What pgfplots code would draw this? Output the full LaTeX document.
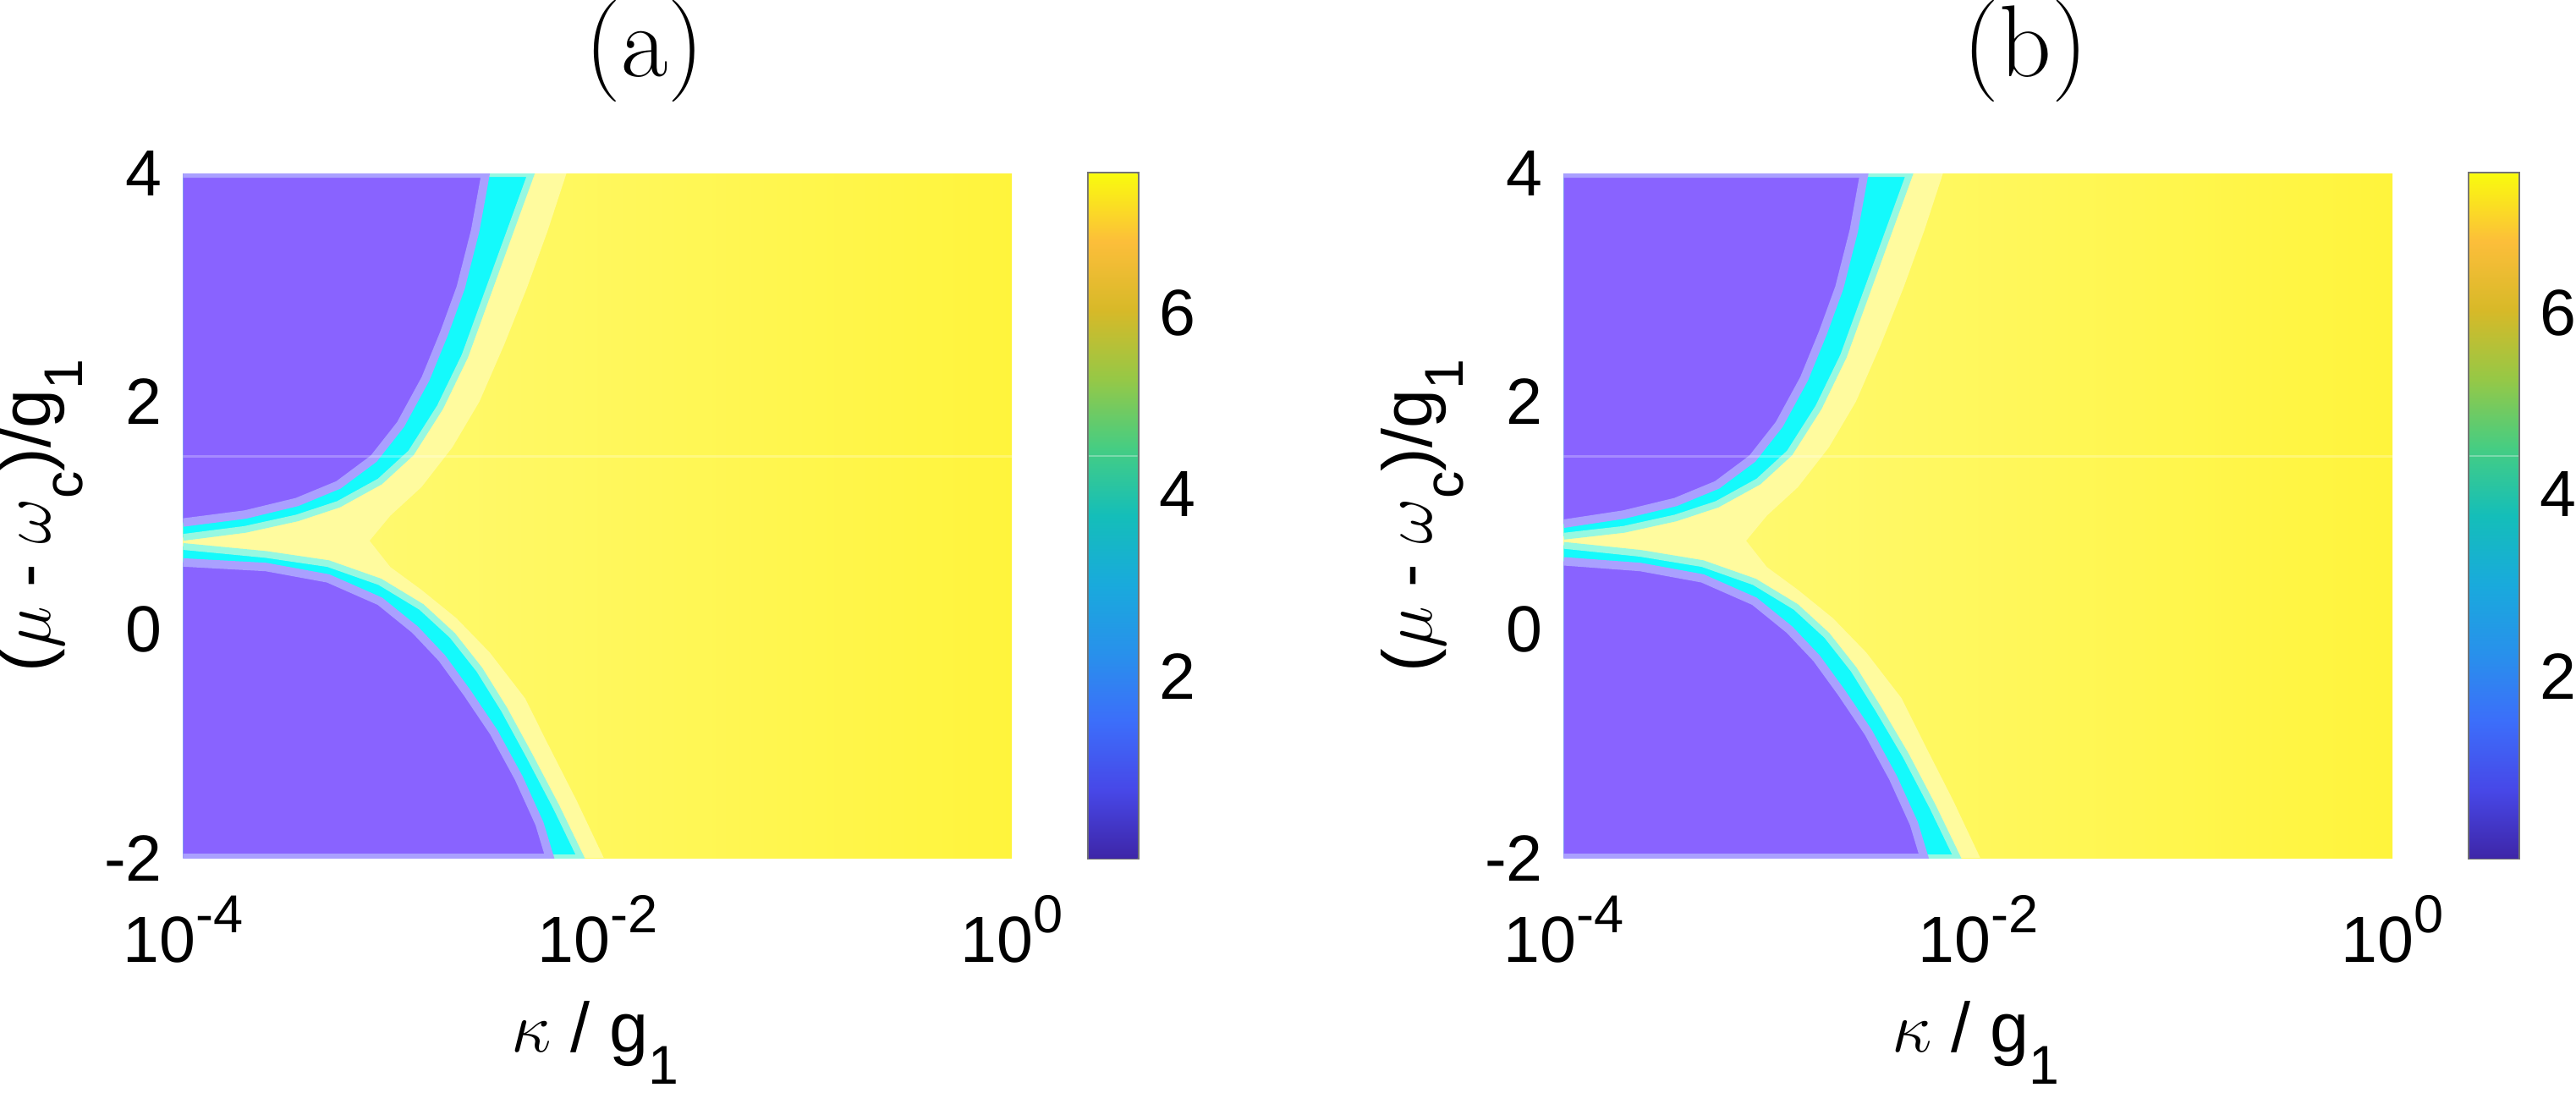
\documentclass[border=0pt]{standalone}
\usepackage{pgfplots}
\pgfplotsset{compat=1.18}
\usepackage{pgfplotstable}
\usepackage{fontspec}
\setsansfont{Liberation Sans}

\definecolor{mpurple}{RGB}{137,99,255}
\definecolor{mlav}{RGB}{170,160,255}
\definecolor{mcyan}{RGB}{20,250,252}
\definecolor{mcyanL}{RGB}{150,248,225}
\definecolor{mpale}{RGB}{255,251,158}
\definecolor{myelL}{RGB}{255,251,125}
\definecolor{myelR}{RGB}{255,244,60}
% parula-like colour scale
\definecolor{p0}{RGB}{62,38,168}
\definecolor{p1}{RGB}{71,72,232}
\definecolor{p2}{RGB}{60,110,250}
\definecolor{p3}{RGB}{40,145,235}
\definecolor{p4}{RGB}{25,170,220}
\definecolor{p5}{RGB}{20,190,185}
\definecolor{p6}{RGB}{70,205,130}
\definecolor{p7}{RGB}{150,200,70}
\definecolor{p8}{RGB}{215,185,40}
\definecolor{p9}{RGB}{252,190,58}
\definecolor{p10}{RGB}{249,251,14}
\pgfdeclareverticalshading{parula}{100bp}{color(0bp)=(p0); color(25bp)=(p0);
  color(30bp)=(p1); color(35bp)=(p2); color(40bp)=(p3); color(45bp)=(p4);
  color(50bp)=(p5); color(55bp)=(p6); color(60bp)=(p7); color(65bp)=(p8);
  color(70bp)=(p9); color(75bp)=(p10); color(100bp)=(p10)}
\pgfdeclarehorizontalshading{yelgrad}{100bp}{color(0bp)=(myelL); color(25bp)=(myelL);
  color(75bp)=(myelR); color(100bp)=(myelR)}

\newcommand{\tickfont}{\sffamily\fontsize{11}{13}\selectfont}
\newcommand{\labfont}{\sffamily\fontsize{11.8}{14}\selectfont}
\newcommand{\titfont}{\rmfamily\fontsize{17.2}{20}\selectfont}
\newcommand{\expo}[1]{\raisebox{5pt}{\fontsize{9}{9}\selectfont #1}}
\newcommand{\subs}[1]{\raisebox{-5.4pt}{\fontsize{9.2}{9.2}\selectfont #1}}

% panel (a): boundaries of the low (purple) regions and the cyan rims
\pgfplotstableread{
k y
1e-4 4
2.884e-3 4
2.570e-3 3.5
2.188e-3 3.0
1.820e-3 2.6
1.479e-3 2.2
1.122e-3 1.8
8.318e-4 1.5
5.623e-4 1.27
3.548e-4 1.12
1.995e-4 1.01
1e-4 0.94
}\purpUpA
\pgfplotstableread{
k y
1e-4 4
4.786e-3 4
3.981e-3 3.6
3.020e-3 3.0
2.291e-3 2.4
1.738e-3 1.95
1.259e-3 1.55
8.913e-4 1.30
5.623e-4 1.10
3.548e-4 0.98
1.995e-4 0.88
1e-4 0.81
}\cyanUpA
\pgfplotstableread{
k y
1e-4 -2
5.888e-3 -2
5.248e-3 -1.7
4.169e-3 -1.3
3.162e-3 -0.9
2.344e-3 -0.55
1.778e-3 -0.25
1.318e-3 0.0
8.913e-4 0.25
5.012e-4 0.45
2.512e-4 0.55
1e-4 0.59
}\purpLoA
\pgfplotstableread{
k y
1e-4 -2
8.318e-3 -2
6.310e-3 -1.55
4.677e-3 -1.1
3.548e-3 -0.7
2.692e-3 -0.35
1.995e-3 -0.05
1.413e-3 0.2
8.913e-4 0.42
5.012e-4 0.58
2.512e-4 0.66
1e-4 0.73
}\cyanLoA
\pgfplotstableread{
k y
1e-4 4
7.079e-3 4
5.754e-3 3.5
4.571e-3 3.0
3.548e-3 2.5
2.692e-3 2.0
1.995e-3 1.6
1.413e-3 1.25
1.000e-3 1.0
7.943e-4 0.78
1.000e-3 0.55
1.413e-3 0.35
2.089e-3 0.1
3.020e-3 -0.2
4.467e-3 -0.6
5.754e-3 -1.0
7.943e-3 -1.5
1.072e-2 -2
1e-4 -2
}\paleA

% panel (b)
\pgfplotstableread{
k y
1e-4 4
2.818e-3 4
2.512e-3 3.5
2.138e-3 3.0
1.778e-3 2.6
1.445e-3 2.2
1.096e-3 1.8
8.128e-4 1.5
5.495e-4 1.27
3.467e-4 1.12
1.950e-4 1.01
1e-4 0.93
}\purpUpB
\pgfplotstableread{
k y
1e-4 4
4.677e-3 4
3.890e-3 3.6
2.951e-3 3.0
2.239e-3 2.4
1.698e-3 1.95
1.230e-3 1.55
8.710e-4 1.30
5.495e-4 1.10
3.467e-4 0.98
1.950e-4 0.88
1e-4 0.82
}\cyanUpB
\pgfplotstableread{
k y
1e-4 -2
5.495e-3 -2
4.898e-3 -1.7
3.890e-3 -1.3
2.951e-3 -0.9
2.188e-3 -0.55
1.660e-3 -0.25
1.230e-3 0.0
8.318e-4 0.25
4.677e-4 0.45
2.344e-4 0.55
1e-4 0.60
}\purpLoB
\pgfplotstableread{
k y
1e-4 -2
7.943e-3 -2
6.026e-3 -1.55
4.467e-3 -1.1
3.311e-3 -0.7
2.512e-3 -0.35
1.862e-3 -0.05
1.318e-3 0.2
8.318e-4 0.42
4.677e-4 0.58
2.344e-4 0.67
1e-4 0.74
}\cyanLoB
\pgfplotstableread{
k y
1e-4 4
6.761e-3 4
5.495e-3 3.5
4.365e-3 3.0
3.388e-3 2.5
2.570e-3 2.0
1.905e-3 1.6
1.349e-3 1.25
9.550e-4 1.0
7.586e-4 0.78
9.550e-4 0.55
1.349e-3 0.35
1.995e-3 0.1
2.884e-3 -0.2
4.266e-3 -0.6
5.495e-3 -1.0
7.586e-3 -1.5
1.023e-2 -2
1e-4 -2
}\paleB

\begin{document}
\begin{tikzpicture}
\begin{axis}[width=4.91cm, height=4.055cm, scale only axis,
    xmode=log, xmin=1e-4, xmax=1, ymin=-2, ymax=4,
    xtick={1e-4,1e-2,1}, xticklabels={10\expo{-4},10\expo{-2},10\expo{0}},
    ytick={-2,0,2,4}, yticklabels={-2,0,2,4},
    axis line style={draw=none}, tick style={draw=none},
    tick label style={font=\tickfont},
    xticklabel style={anchor=base, yshift=-0.62cm},
    xlabel={$\kappa$ / g\subs{1}},
    ylabel={($\mu$ - $\omega$\subs{c})/g\subs{1}},
    xlabel style={at={(axis description cs:0.497,-0.2836)}, anchor=base, inner xsep=0pt, inner ysep=1.5pt, font=\labfont},
    ylabel style={at={(axis description cs:-0.119,0.5)}, anchor=south, inner sep=0pt, font=\labfont},
    title style={at={(axis description cs:0.557,1.0898)}, anchor=base, inner sep=0pt, font=\titfont},
    title={(a)}]
  \addplot[draw=none, shading=yelgrad] coordinates {(1e-4,-2) (1,-2) (1,4) (1e-4,4)};
  \addplot[draw=none, fill=mpale] table {\paleA};
  \addplot[fill=mcyan, draw=mcyanL, line width=0.04cm] table {\cyanUpA};
  \addplot[fill=mcyan, draw=mcyanL, line width=0.04cm] table {\cyanLoA};
  \addplot[fill=mpurple, draw=mlav, line width=0.05cm] table {\purpUpA};
  \addplot[fill=mpurple, draw=mlav, line width=0.05cm] table {\purpLoA};
  \addplot[white, opacity=0.25, line width=0.3pt] coordinates {(1e-4,1.52) (1,1.52)};
\end{axis}
\begin{axis}[at={(5.365cm,0)}, width=0.29cm, height=4.055cm, scale only axis,
    xmin=0, xmax=1, ymin=0, ymax=7.53, xtick=\empty,
    ytick={2,4,6}, yticklabels={2,4,6},
    ytick pos=right, yticklabel pos=right, tick align=inside,
    major tick length=0.045cm,
    tick style={draw=black!85, line width=0.5pt},
    axis line style={draw=black!55, line width=0.6pt},
    tick label style={font=\tickfont},
    yticklabel style={inner xsep=0pt, xshift=0.12cm}]
  \addplot[draw=none, shading=parula] coordinates {(0,0) (1,0) (1,7.53) (0,7.53)};
  \addplot[white, opacity=0.3, line width=0.3pt] coordinates {(0,4.42) (1,4.42)};
\end{axis}
\begin{axis}[at={(8.18cm,0)}, width=4.91cm, height=4.055cm, scale only axis,
    xmode=log, xmin=1e-4, xmax=1, ymin=-2, ymax=4,
    xtick={1e-4,1e-2,1}, xticklabels={10\expo{-4},10\expo{-2},10\expo{0}},
    ytick={-2,0,2,4}, yticklabels={-2,0,2,4},
    axis line style={draw=none}, tick style={draw=none},
    tick label style={font=\tickfont},
    xticklabel style={anchor=base, yshift=-0.62cm},
    xlabel={$\kappa$ / g\subs{1}},
    ylabel={($\mu$ - $\omega$\subs{c})/g\subs{1}},
    xlabel style={at={(axis description cs:0.497,-0.2836)}, anchor=base, inner xsep=0pt, inner ysep=1.5pt, font=\labfont},
    ylabel style={at={(axis description cs:-0.119,0.5)}, anchor=south, inner sep=0pt, font=\labfont},
    title style={at={(axis description cs:0.557,1.0898)}, anchor=base, inner sep=0pt, font=\titfont},
    title={(b)}]
  \addplot[draw=none, shading=yelgrad] coordinates {(1e-4,-2) (1,-2) (1,4) (1e-4,4)};
  \addplot[draw=none, fill=mpale] table {\paleB};
  \addplot[fill=mcyan, draw=mcyanL, line width=0.04cm] table {\cyanUpB};
  \addplot[fill=mcyan, draw=mcyanL, line width=0.04cm] table {\cyanLoB};
  \addplot[fill=mpurple, draw=mlav, line width=0.05cm] table {\purpUpB};
  \addplot[fill=mpurple, draw=mlav, line width=0.05cm] table {\purpLoB};
  \addplot[white, opacity=0.25, line width=0.3pt] coordinates {(1e-4,1.52) (1,1.52)};
\end{axis}
\begin{axis}[at={(13.545cm,0)}, width=0.29cm, height=4.055cm, scale only axis,
    xmin=0, xmax=1, ymin=0, ymax=7.53, xtick=\empty,
    ytick={2,4,6}, yticklabels={2,4,6},
    ytick pos=right, yticklabel pos=right, tick align=inside,
    major tick length=0.045cm,
    tick style={draw=black!85, line width=0.5pt},
    axis line style={draw=black!55, line width=0.6pt},
    tick label style={font=\tickfont},
    yticklabel style={inner xsep=0pt, xshift=0.12cm}]
  \addplot[draw=none, shading=parula] coordinates {(0,0) (1,0) (1,7.53) (0,7.53)};
  \addplot[white, opacity=0.3, line width=0.3pt] coordinates {(0,4.42) (1,4.42)};
\end{axis}
\end{tikzpicture}
\end{document}
